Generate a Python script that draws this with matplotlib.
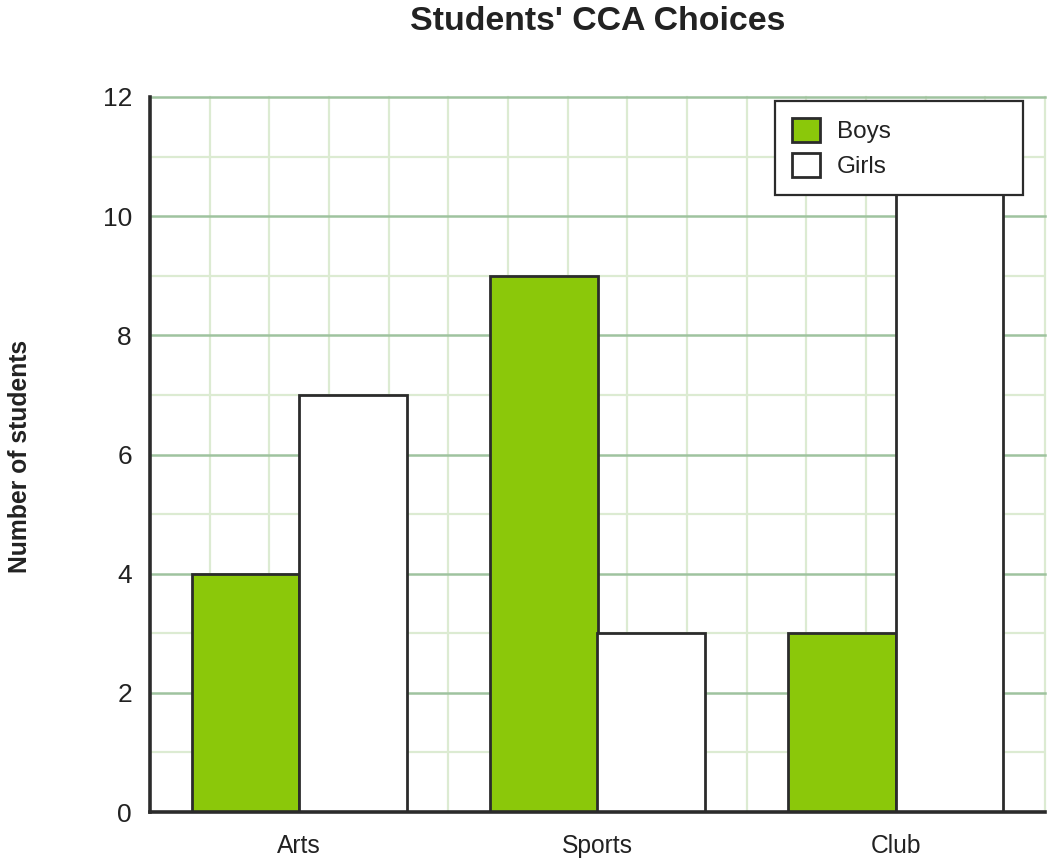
import matplotlib.pyplot as plt
import numpy as np

# --- Data ---
categories = ['Arts', 'Sports', 'Club']
boys  = [4, 9, 3]
girls = [7, 3, 11]
yticks = [0, 2, 4, 6, 8, 10, 12]

GREEN = '#8bc80a'
EDGE = '#2b2b2b'
MAJOR_GRID = '#9fc39f'
MINOR_GRID = '#dcebd2'
TEXT = '#222222'

plt.rcParams['font.family'] = ['Liberation Sans', 'DejaVu Sans']

fig = plt.figure(figsize=(10.55, 8.66), dpi=100)
ax = fig.add_axes([150/1055, 1 - 812/866, 895/1055, 715/866])

x = np.arange(len(categories))
width = 0.36

ax.bar(x - width/2, boys, width, color=GREEN, edgecolor=EDGE,
       linewidth=2.0, label='Boys', zorder=3)
ax.bar(x + width/2, girls, width, color='white', edgecolor=EDGE,
       linewidth=2.0, label='Girls', zorder=3)

ax.set_xlim(-0.5, len(categories) - 0.5)
ax.set_ylim(0, 12)

# --- Grid ---
for v in np.arange(1, 12, 2):
    ax.axhline(v, color=MINOR_GRID, linewidth=1.6, zorder=1)
for v in np.arange(-0.3, len(categories) - 0.5 + 0.01, 0.2):
    ax.axvline(v, color=MINOR_GRID, linewidth=1.6, zorder=1, clip_on=False)
for v in yticks[1:]:
    ax.axhline(v, color=MAJOR_GRID, linewidth=1.8, zorder=1.5, clip_on=False)

# --- Axes ---
ax.set_xticks(x)
ax.set_xticklabels(categories)
ax.set_yticks(yticks)
ax.tick_params(axis='x', length=0, pad=16, labelsize=17.7, labelcolor=TEXT)
ax.tick_params(axis='y', length=0, pad=13, labelsize=19, labelcolor=TEXT)

for s in ['top', 'right']:
    ax.spines[s].set_visible(False)
ax.spines['left'].set_color(EDGE)
ax.spines['left'].set_linewidth(2.6)
ax.spines['bottom'].set_color(EDGE)
ax.spines['bottom'].set_linewidth(2.6)
ax.spines['left'].set_zorder(4)
ax.spines['bottom'].set_zorder(4)

# --- Legend ---
leg = ax.legend(loc='upper left',
                bbox_to_anchor=(625/895, 620/715, 248/895, 91/715),
                mode='expand', borderaxespad=0, fontsize=17.5,
                handlelength=1.18, handleheight=1.18, handletextpad=0.7,
                labelspacing=0.4, borderpad=0.68, fancybox=False,
                framealpha=1, edgecolor=EDGE)
leg.get_frame().set_linewidth(1.6)
leg.set_zorder(5)
for t in leg.get_texts():
    t.set_color(TEXT)

# --- Titles ---
fig.text(598/1055, 1 - 21/866, "Students' CCA Choices", ha='center',
         va='center', fontsize=24.4, fontweight='bold', color=TEXT)
fig.text(20/1055, 1 - 456/866, 'Number of students', rotation=90,
         ha='center', va='center', fontsize=17.8, fontweight='bold',
         color=TEXT)

fig.savefig('out.png', dpi=100)
